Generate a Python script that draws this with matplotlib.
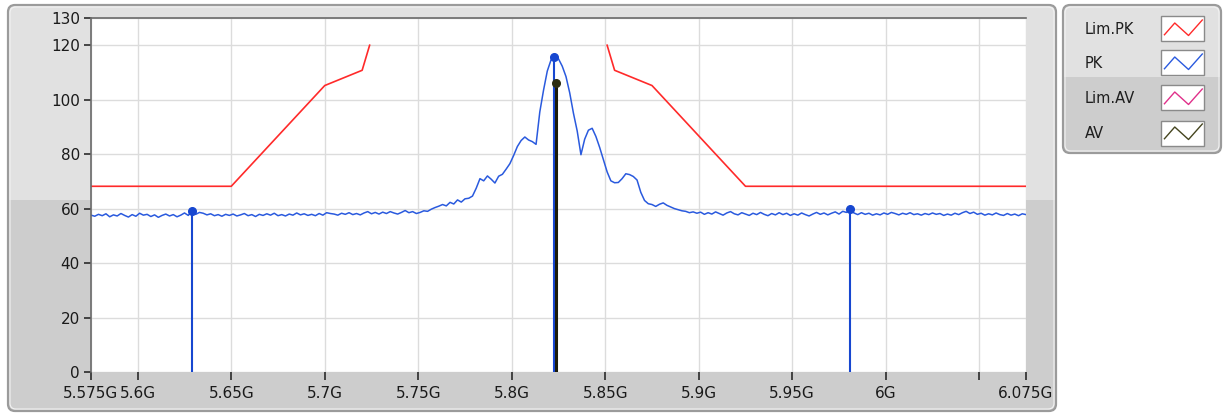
import numpy as np
import matplotlib
matplotlib.use("Agg")
import matplotlib.pyplot as plt
from matplotlib.patches import FancyBboxPatch, Rectangle

# ---------------- data ----------------
series_names = ["Lim.PK", "PK", "Lim.AV", "AV"]
series_colors = ["#ff2a2a", "#2a5ade", "#e0308a", "#45451f"]

# Limit line (peak), clipped at top of visible mask
lim_pk_freq_left = [5.575, 5.65, 5.70, 5.72, 5.724]
lim_pk_val_left = [68.2, 68.2, 105.2, 110.8, 120.0]
lim_pk_freq_right = [5.851, 5.855, 5.875, 5.925, 6.075]
lim_pk_val_right = [120.0, 110.8, 105.2, 68.2, 68.2]

# PK trace sweep (GHz start / step) and values
pk_freq_start = 5.575
pk_freq_step = 0.002
pk_values = [
    57.6, 57.2, 57.9, 57.4, 58.1, 57.0, 57.7, 57.3, 58.2, 57.5,
    56.9, 57.8, 57.2, 58.3, 57.6, 57.9, 57.1, 57.7, 56.8, 57.5,
    58.0, 57.3, 57.8, 57.0, 57.6, 58.4, 57.5, 59.2, 57.9, 58.6,
    58.3, 57.7, 58.1, 57.4, 57.8, 57.2, 57.9, 57.5, 58.0, 57.3,
    57.7, 58.2, 57.4, 57.8, 57.1, 57.9, 57.5, 58.1, 57.6, 58.3,
    57.4, 57.8, 57.3, 58.0, 57.6, 58.4, 57.7, 58.1, 57.5, 57.9,
    57.4, 58.2, 57.6, 58.5, 58.2, 58.0, 57.6, 58.3, 57.9, 58.5,
    57.8, 58.2, 57.7, 58.4, 58.9, 58.1, 58.6, 58.0, 58.7, 58.2,
    58.9, 58.4, 58.0, 58.6, 59.3, 58.5, 58.9, 58.2, 58.6, 59.2,
    59.0, 59.8, 60.4, 60.9, 61.5, 61.0, 62.3, 61.7, 63.2, 62.4,
    63.6, 63.8, 64.6, 67.5, 71.0, 70.2, 72.0, 70.8, 69.4, 71.9,
    72.6, 74.5, 76.5, 79.5, 82.8, 85.0, 86.3, 85.2, 84.6, 83.6,
    95.5, 103.5, 110.5, 114.6, 115.8, 115.0, 112.3, 108.5, 102.5, 95.0,
    88.5, 79.8, 85.5, 88.8, 89.5, 86.5, 82.5, 78.0, 73.5, 70.2,
    69.5, 69.6, 71.0, 72.8, 72.5, 71.8, 70.5, 66.0, 63.0, 61.8,
    61.5, 60.8, 61.6, 62.1, 61.2, 60.6, 60.0, 59.6, 59.2, 59.0,
    58.5, 58.8, 58.3, 58.7, 57.9, 58.5, 58.0, 58.8, 58.2, 57.6,
    58.4, 58.9, 58.1, 57.7, 58.5, 58.0, 57.5, 58.3, 57.8, 58.6,
    57.9, 57.4, 58.2, 57.7, 58.5, 57.8, 58.3, 57.5, 58.1, 57.6,
    58.4, 57.8, 57.3, 58.0, 58.6, 57.9, 58.4, 57.7, 58.3, 58.8,
    58.0, 59.0, 58.6, 59.8, 58.4, 57.8, 58.5, 57.9, 58.3, 57.6,
    58.1, 57.7, 58.4, 57.9, 58.6, 58.2, 57.7, 58.3, 57.9, 58.5,
    57.8, 58.1, 57.6, 58.2, 57.8, 58.4, 57.9, 58.2, 57.5, 58.0,
    57.6, 58.3, 57.8, 58.5, 59.0, 58.2, 58.7, 57.9, 58.3, 57.6,
    58.1, 57.7, 58.4, 57.8, 57.5, 58.2, 57.6, 58.0, 57.4, 58.1,
    57.8,
]

# Markers
pk_marker_freq = [5.629, 5.8228, 5.981]
pk_marker_val = [59.3, 115.8, 59.8]
av_marker_freq = [5.8237]
av_marker_val = [106.3]

# Axes ticks
x_ticks = [5.575, 5.6, 5.65, 5.7, 5.75, 5.8, 5.85, 5.9, 5.95, 6.0, 6.05, 6.075]
x_tick_labels = ["5.575G", "5.6G", "5.65G", "5.7G", "5.75G", "5.8G", "5.85G",
                 "5.9G", "5.95G", "6G", "", "6.075G"]
y_ticks = [0, 20, 40, 60, 80, 100, 120, 130]
y_tick_labels = ["0", "20", "40", "60", "80", "100", "120", "130"]

# ---------------- figure ----------------
W, H = 1223, 415
fig = plt.figure(figsize=(W / 100, H / 100), dpi=100)
fig.patch.set_facecolor("white")

bg = fig.add_axes([0, 0, 1, 1], zorder=0)
bg.set_xlim(0, W)
bg.set_ylim(H, 0)
bg.axis("off")


def split_panel(x, y, w, h, split_y, top_c, bot_c):
    p = FancyBboxPatch((x, y), w, h, boxstyle="round,pad=0,rounding_size=7",
                       fc=top_c, ec="none")
    bg.add_patch(p)
    r = Rectangle((x, split_y), w, y + h - split_y, fc=bot_c, ec="none")
    bg.add_patch(r)
    r.set_clip_path(p)
    bg.add_patch(FancyBboxPatch((x, y), w, h, boxstyle="round,pad=0,rounding_size=7",
                                fc="none", ec="#9b9b9b", lw=1.6))
    bg.add_patch(FancyBboxPatch((x + 2, y + 2), w - 4, h - 4,
                                boxstyle="round,pad=0,rounding_size=6",
                                fc="none", ec="#f2f2f2", lw=0.8))


split_panel(8, 5, 1048, 406, 200, "#e1e1e1", "#cdcdcd")
split_panel(1063, 5, 158, 148, 77, "#e1e1e1", "#cdcdcd")

# legend
row_y = [29, 63, 98, 133]
zig_x = np.array([0.08, 0.32, 0.64, 0.96])
zig_y = np.array([0.27, 0.74, 0.24, 0.86])
for name, col, yy in zip(series_names, series_colors, row_y):
    bg.text(1085, yy, name, fontsize=10.5, color="#1e1e1e", va="center",
            ha="left", family="DejaVu Sans")
    bx, bw, bh = 1161, 43, 25
    by = yy - bh / 2
    bg.add_patch(Rectangle((bx, by), bw, bh, fc="white", ec="#8a8a8a", lw=1.0))
    bg.plot(bx + zig_x * bw, by + bh - zig_y * bh, color=col, lw=1.0)

# main axes
L, R, T, B = 91, 1026, 18, 372
ax = fig.add_axes([L / W, 1 - B / H, (R - L) / W, (B - T) / H], zorder=1)
ax.set_facecolor("white")
ax.set_xlim(5.575, 6.075)
ax.set_ylim(0, 130)

ax.set_xticks(x_ticks)
ax.set_xticklabels(x_tick_labels)
ax.set_yticks(y_ticks)
ax.set_yticklabels(y_tick_labels)
ax.grid(True, color="#dcdcdc", lw=1.0)
ax.set_axisbelow(True)
ax.tick_params(axis="both", colors="#2a2a2a", labelcolor="#1a1a1a",
               labelsize=11, width=1.2)
ax.tick_params(axis="x", length=6, pad=4)
ax.tick_params(axis="y", length=5, pad=3)
for s in ["bottom", "right"]:
    ax.spines[s].set_visible(False)
for s in ["left", "top"]:
    ax.spines[s].set_color("#6a6a6a")
    ax.spines[s].set_linewidth(1.2)

# limit line
ax.plot(lim_pk_freq_left, lim_pk_val_left, color=series_colors[0], lw=1.2)
ax.plot(lim_pk_freq_right, lim_pk_val_right, color=series_colors[0], lw=1.2)

# PK trace
pk_freq = pk_freq_start + pk_freq_step * np.arange(len(pk_values))
ax.plot(pk_freq, pk_values, color=series_colors[1], lw=1.1)

# marker stems
ax.vlines(pk_marker_freq, 0, pk_marker_val, color="#1747d0", lw=1.5, zorder=4)
ax.vlines(av_marker_freq, 0, av_marker_val, color="#1b1b08", lw=2.2, zorder=5)
ax.plot(pk_marker_freq, pk_marker_val, "o", color="#1747d0", ms=5.5, zorder=6)
ax.plot(av_marker_freq, av_marker_val, "o", color="#2e2e12", ms=5.5, zorder=6)

fig.savefig("out.png", dpi=100)
